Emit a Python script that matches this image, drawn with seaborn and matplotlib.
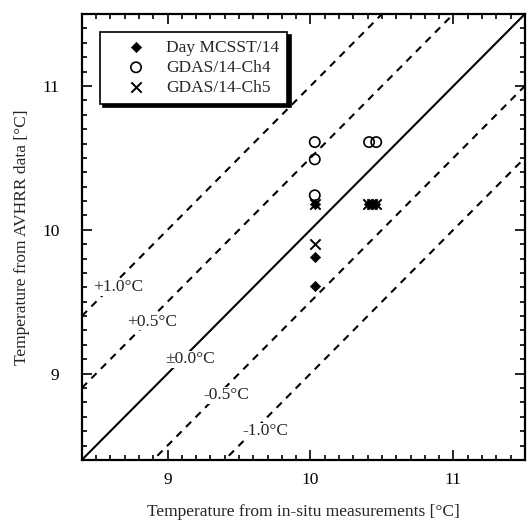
import numpy as np
import pandas as pd
import matplotlib
matplotlib.use('Agg')
import matplotlib.pyplot as plt
from matplotlib.ticker import MultipleLocator
import seaborn as sns

# data
mcsst_x = [10.03, 10.03, 10.03, 10.41, 10.45]
mcsst_y = [9.61, 9.81, 10.18, 10.18, 10.18]
ch4_x = [10.03, 10.03, 10.03, 10.41, 10.46]
ch4_y = [10.61, 10.49, 10.24, 10.61, 10.61]
ch5_x = [10.03, 10.03, 10.40, 10.43, 10.46]
ch5_y = [9.90, 10.18, 10.18, 10.18, 10.18]

offsets = [1.0, 0.5, 0.0, -0.5, -1.0]
offset_labels = ['+1.0°C', '+0.5°C', '±0.0°C', '-0.5°C', '-1.0°C']
label_x = [8.48, 8.72, 8.98, 9.25, 9.52]
label_y = [9.60, 9.36, 9.10, 8.85, 8.60]

lim = (8.4, 11.5)

sns.set_theme(style='ticks')
plt.rcParams['font.family'] = ['Liberation Serif', 'DejaVu Serif']
fs = 12.5

fig = plt.figure(figsize=(5.28, 5.22), dpi=100)
ax = fig.add_axes([0.155, 0.119, 0.839, 0.854])

# 1:1 line and offset lines
xx = np.array(lim)
for c in offsets:
    line = pd.DataFrame({'x': xx, 'y': xx + c})
    sns.lineplot(data=line, x='x', y='y', ax=ax, color='black', lw=1.5,
                 linestyle='-' if c == 0 else (0, (3.5, 3)))

for t, lx, ly in zip(offset_labels, label_x, label_y):
    ax.text(lx, ly, t, fontsize=fs, va='center', ha='left',
            family=['Liberation Serif', 'DejaVu Sans'],
            bbox=dict(facecolor='white', edgecolor='none', pad=0.3))

sns.scatterplot(x=mcsst_x, y=mcsst_y, marker='D', s=28, color='black',
                edgecolor='black', ax=ax, label='Day MCSST/14', zorder=3)
sns.scatterplot(x=ch4_x, y=ch4_y, marker='o', s=55, facecolor='none',
                edgecolor='black', linewidth=1.2, ax=ax, label='GDAS/14-Ch4', zorder=3)
sns.scatterplot(x=ch5_x, y=ch5_y, marker='x', s=55, color='black',
                linewidth=1.4, ax=ax, label='GDAS/14-Ch5', zorder=3)

ax.set_xlim(*lim)
ax.set_ylim(*lim)
ax.xaxis.set_major_locator(MultipleLocator(1))
ax.yaxis.set_major_locator(MultipleLocator(1))
ax.xaxis.set_minor_locator(MultipleLocator(0.1))
ax.yaxis.set_minor_locator(MultipleLocator(0.1))
ax.tick_params(which='both', direction='in', top=True, right=True,
               colors='black', labelsize=fs, width=1.2)
ax.tick_params(which='major', length=7)
ax.tick_params(axis='x', which='major', pad=9)
ax.tick_params(axis='y', which='major', pad=16)
ax.tick_params(which='minor', length=3.5)
for s in ax.spines.values():
    s.set_linewidth(1.6)
    s.set_color('black')

ax.set_xlabel('Temperature from in-situ measurements [°C]', fontsize=fs, labelpad=11)
ax.set_ylabel('Temperature from AVHRR data [°C]', fontsize=fs, labelpad=9)

leg = ax.legend(loc='upper left', bbox_to_anchor=(0.04, 0.96), fontsize=fs,
                frameon=True, fancybox=False, edgecolor='black',
                shadow={'color': 'black', 'alpha': 1, 'ox': 2.5, 'oy': -2.5},
                handletextpad=0.1, handlelength=3.3, borderpad=0.45,
                labelspacing=0.22, borderaxespad=0)
leg.get_frame().set_linewidth(1.2)
leg.get_frame().set_alpha(1)

fig.savefig('out.png', dpi=100)
